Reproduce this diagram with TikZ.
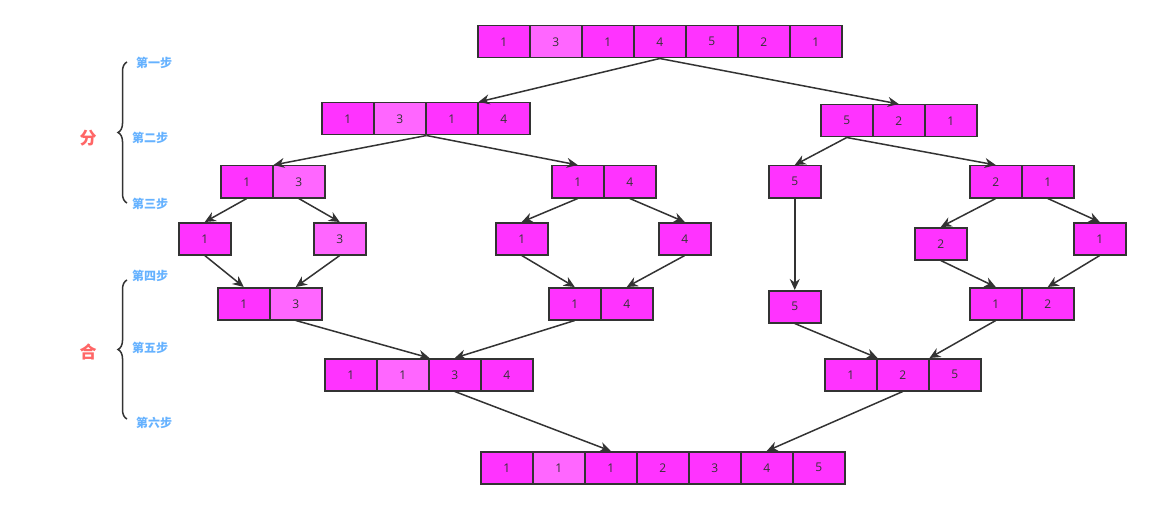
\documentclass[tikz,border=0pt]{standalone}
\usepackage{fontspec}
\setmainfont{Open Sans}
\newfontfamily\cjk{Noto Sans CJK SC}
\usetikzlibrary{arrows.meta,decorations.pathreplacing}
\definecolor{mg}{HTML}{FF33FF}
\definecolor{lmg}{HTML}{FF66FF}
\definecolor{bd}{HTML}{333333}
\definecolor{stp}{HTML}{66B2FF}
\definecolor{big}{HTML}{FF6666}
\tikzset{
 cell/.style={draw=bd,line width=1.5pt,minimum width=52pt,minimum height=32pt,inner sep=0pt,anchor=north west,font=\fontsize{12}{12}\selectfont,text=bd},
 n/.style={cell,fill=mg}, l/.style={cell,fill=lmg},
 ar/.style={draw=bd,line width=1.5pt,-{Stealth[length=11pt,width=10pt]}},
 steplbl/.style={font=\cjk\bfseries\fontsize{12}{12}\selectfont,text=stp},
 bigl/.style={font=\cjk\bfseries\fontsize{17}{17}\selectfont,text=big},
 br/.style={draw=bd,line width=1.5pt,decorate,decoration={brace,amplitude=9pt,mirror}}
}
\newcommand{\arr}[4]{\foreach \v/\s [count=\i] in {#4}{\node[\s] (#1\i) at ({#2+52*(\i-1)},#3) {\v};}}
\begin{document}
\begin{tikzpicture}[x=1pt,y=-1pt]
\useasboundingbox (0,0) rectangle (1149,508);
\arr{t}{477}{25}{1/n,3/l,1/n,4/n,5/n,2/n,1/n}
\arr{a}{321}{102}{1/n,3/l,1/n,4/n}
\arr{b}{820}{104}{5/n,2/n,1/n}
\arr{c}{220}{165}{1/n,3/l}
\arr{d}{551}{165}{1/n,4/n}
\arr{e}{768}{165}{5/n}
\arr{f}{969}{165}{2/n,1/n}
\arr{g}{178}{222}{1/n}
\arr{h}{313}{222}{3/l}
\arr{i}{495}{222}{1/n}
\arr{j}{658}{222}{4/n}
\arr{k}{914}{227}{2/n}
\arr{m}{1073}{222}{1/n}
\arr{p}{217}{287}{1/n,3/l}
\arr{q}{548}{287}{1/n,4/n}
\arr{r}{768}{290}{5/n}
\arr{s}{969}{287}{1/n,2/n}
\arr{u}{324}{358}{1/n,1/l,3/n,4/n}
\arr{v}{824}{358}{1/n,2/n,5/n}
\arr{w}{480}{451}{1/n,1/l,1/n,2/n,3/n,4/n,5/n}
\draw[ar] (t4.south) -- (a3.north east);
\draw[ar] (t4.south) -- (b2.north);
\draw[ar] (a2.south east) -- (c1.north east);
\draw[ar] (a2.south east) -- (d1.north);
\draw[ar] (b1.south) -- (e1.north);
\draw[ar] (b1.south) -- (f1.north);
\draw[ar] (c1.south) -- (g1.north);
\draw[ar] (c2.south) -- (h1.north);
\draw[ar] (d1.south) -- (i1.north);
\draw[ar] (d2.south) -- (j1.north);
\draw[ar] (e1.south) -- (r1.north);
\draw[ar] (f1.south) -- (k1.north);
\draw[ar] (f2.south) -- (m1.north);
\draw[ar] (g1.south) -- (p1.north);
\draw[ar] (h1.south) -- (p2.north);
\draw[ar] (i1.south) -- (q1.north);
\draw[ar] (j1.south) -- (q2.north);
\draw[ar] (k1.south) -- (s1.north);
\draw[ar] (m1.south) -- (s2.north);
\draw[ar] (p2.south) -- (u2.north east);
\draw[ar] (q1.south) -- (u3.north);
\draw[ar] (r1.south) -- (v1.north east);
\draw[ar] (s1.south) -- (v2.north east);
\draw[ar] (u3.south) -- (w3.north);
\draw[ar] (v2.south) -- (w6.north);
\coordinate (b1t) at (127,62); \coordinate (b1b) at (127,203);
\coordinate (b2t) at (127,280); \coordinate (b2b) at (127,419);
\draw[br] (b1t) -- (b1b);
\draw[br] (b2t) -- (b2b);
\node[bigl] (fen) at (88,138) {分};
\node[bigl] (he) at (88,352) {合};
\node[steplbl] (st1) at (154,63) {第一步};
\node[steplbl] (st2) at (150,138) {第二步};
\node[steplbl] (st3) at (150,204) {第三步};
\node[steplbl] (st4) at (150,276) {第四步};
\node[steplbl] (st5) at (150,348) {第五步};
\node[steplbl] (st6) at (154,423) {第六步};
\end{tikzpicture}
\end{document}
